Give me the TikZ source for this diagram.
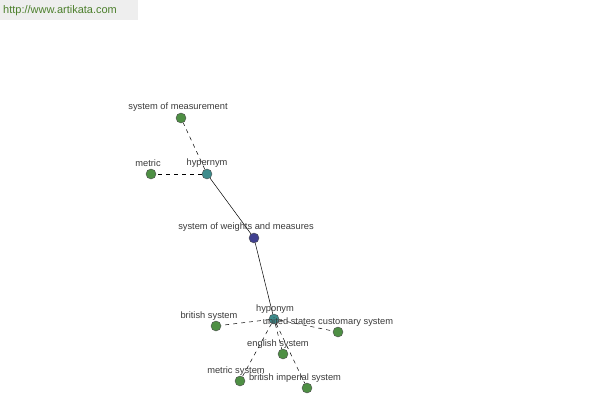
\documentclass[tikz,border=0pt]{standalone}
\usepackage{fontspec}
\setmainfont{Liberation Sans}
\definecolor{leafgreen}{HTML}{4E8F44}
\definecolor{hubteal}{HTML}{3E8C8C}
\definecolor{rootblue}{HTML}{40408F}
\definecolor{labelgray}{HTML}{3A3A3A}
\definecolor{bannergray}{HTML}{EEEEEE}
\definecolor{bannergreen}{HTML}{4C7F2C}
\tikzset{
  term/.style={circle, draw=black!70, line width=0.4pt, minimum size=10pt, inner sep=0pt},
  leaf/.style={term, fill=leafgreen},
  hub/.style={term, fill=hubteal},
  root/.style={term, fill=rootblue},
  tag/.style={text=labelgray, font=\fontsize{9.3}{10}\selectfont, inner sep=0pt},
  rel/.style={line width=0.5pt, dash pattern=on 4pt off 4pt}
}
\begin{document}
\begin{tikzpicture}[x=1pt, y=-1pt]
  \useasboundingbox (0,0) rectangle (600,400);

  % Cabecera
  \fill[bannergray] (0,0) rectangle (138,20);
  \node[anchor=west, text=bannergreen, font=\fontsize{11}{12}\selectfont, inner sep=0pt] (site) at (3,10.5) {http://www.artikata.com};

  % Nodos
  \node[leaf] (measurement) at (181,118) {};
  \node[leaf] (metric) at (151,174) {};
  \node[hub] (hypernym) at (207,174) {};
  \node[root] (weights) at (254,238) {};
  \node[hub] (hyponym) at (274,319) {};
  \node[leaf] (british) at (216,326) {};
  \node[leaf] (customary) at (338,332) {};
  \node[leaf] (english) at (283,354) {};
  \node[leaf] (metricsys) at (240,381) {};
  \node[leaf] (imperial) at (307,388) {};

  % Aristas
  \draw[rel] (hypernym) -- (measurement);
  \draw[rel] (hypernym) -- (metric);
  \draw[line width=0.5pt] (hypernym) -- (weights);
  \draw[line width=0.5pt] (weights) -- (hyponym);
  \draw[rel] (hyponym) -- (british);
  \draw[rel] (hyponym) -- (customary);
  \draw[rel] (hyponym) -- (english);
  \draw[rel] (hyponym) -- (metricsys);
  \draw[rel] (hyponym) -- (imperial);

  % Etiquetas
  \node[tag] (measurementlbl) at (178,107) {system of measurement};
  \node[tag] (metriclbl) at (148,163) {metric};
  \node[tag] (hypernymlbl) at (207,163) {hypernym};
  \node[tag] (weightslbl) at (246,227) {system of weights and measures};
  \node[tag] (hyponymlbl) at (275,309) {hyponym};
  \node[tag] (britishlbl) at (209,316) {british system};
  \node[tag] (customarylbl) at (328,322) {united states customary system};
  \node[tag] (englishlbl) at (278,344) {english system};
  \node[tag] (metricsyslbl) at (236,371) {metric system};
  \node[tag] (imperiallbl) at (295,378) {british imperial system};
\end{tikzpicture}
\end{document}
